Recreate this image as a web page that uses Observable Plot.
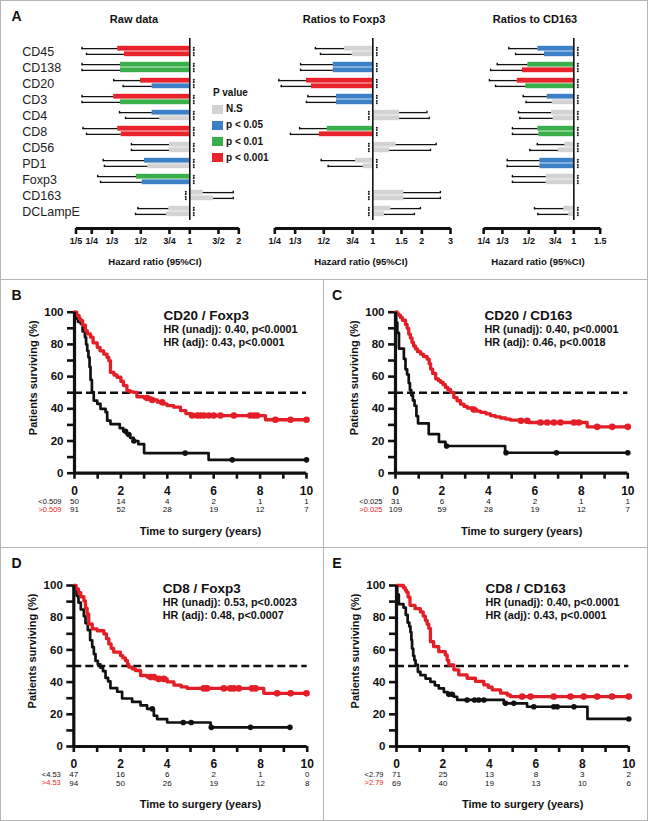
<!DOCTYPE html>
<html><head><meta charset="utf-8">
<script src="https://cdn.jsdelivr.net/npm/d3@7"></script>
<script src="https://cdn.jsdelivr.net/npm/@observablehq/plot@0.6"></script>
<style>
body{margin:0;background:#fff;font-family:"Liberation Sans",Arial,sans-serif;}
#fig{position:relative;width:648px;height:821px;overflow:hidden;background:#fff;}
#fig svg{position:absolute;background:transparent;overflow:visible;}
.t{position:absolute;white-space:nowrap;line-height:1;font-weight:bold;color:#111;}
.ln{position:absolute;background:#b5b5b5;}
.sw{position:absolute;width:11px;height:9px;}
</style></head><body><div id="fig"></div>
<script>
// ---------- Panel A data ----------
const markers = ["CD45","CD138","CD20","CD3","CD4","CD8","CD56","PD1","Foxp3","CD163","DCLampE"];
const sigNames = ["N.S","p < 0.05","p < 0.01","p < 0.001"];
const sigColors = ["#d3d3d3","#3d80c6","#3aae4a","#e8232b"];

const rawHrTop  = [0.361,0.375,0.498,0.341,0.587,0.361,0.75,0.527,0.47,1.21,0.743];
const rawCiTop  = [0.218,0.218,0.341,0.218,0.37,0.221,0.438,0.294,0.272,1.85,0.48];
const rawSigTop = [3,2,3,3,1,3,0,1,2,0,0];
const rawHrBot  = [0.397,0.375,0.587,0.375,0.654,0.379,0.75,0.552,0.51,1.40,0.72];
const rawCiBot  = [0.232,0.218,0.39,0.218,0.403,0.232,0.438,0.299,0.283,1.85,0.464];
const rawSigBot = [3,2,1,2,0,3,0,0,1,0,0];

const foxHrTop  = [0.67,0.571,0.391,0.598,1.46,0.525,1.39,0.783,null,1.55,1.29];
const foxCiTop  = [0.444,0.36,0.265,0.399,2.15,0.355,2.45,0.482,null,2.6,1.96];
const foxSigTop = [0,1,3,1,0,2,0,0,null,0,0];
const foxHrBot  = [0.747,0.571,0.42,0.598,1.46,0.47,1.27,0.873,null,1.55,1.18];
const foxCiBot  = [0.477,0.36,0.274,0.391,2.22,0.312,2.26,0.532,null,2.6,1.8];
const foxSigBot = [0,1,3,1,0,3,0,0,null,0,0];

const cdHrTop  = [0.575,0.493,0.419,0.664,0.71,0.575,0.87,0.593,0.654,null,0.857];
const cdCiTop  = [0.368,0.308,0.273,0.459,0.427,0.389,0.57,0.359,0.389,null,0.546];
const cdSigTop = [1,2,3,1,0,2,0,1,0,null,0];
const cdHrBot  = [0.637,0.454,0.478,0.717,0.728,0.584,0.787,0.593,0.654,null,0.926];
const cdCiBot  = [0.408,0.278,0.3,0.48,0.436,0.389,0.508,0.359,0.389,null,0.575];
const cdSigBot = [1,3,2,0,0,2,0,1,0,null,0];

const rawTicks = [1/5,1/4,1/3,1/2,3/4,1,3/2,2];
const rawTickLabels = ["1/5","1/4","1/3","1/2","3/4","1","3/2","2"];
const foxTicks = [1/4,1/3,1/2,3/4,1,1.5,2,3];
const foxTickLabels = ["1/4","1/3","1/2","3/4","1","1.5","2","3"];
const cdTicks = [1/4,1/3,1/2,3/4,1,1.5];
const cdTickLabels = ["1/4","1/3","1/2","3/4","1","1.5"];

// ---------- Survival data ----------
const riskTimes = [0,2,4,6,8,10];

const bBlackT = [0,0.05,0.15,0.27,0.35,0.45,0.5,0.55,0.6,0.65,0.69,0.75,0.83,0.98,1.12,1.34,1.41,1.55,1.95,2.1,2.25,2.4,2.55,2.75,3.0,5.78,10];
const bBlackS = [100,96,94,92.8,88,84.4,80,76,72,66,58,50.3,45.1,43.1,40,37.9,32.6,30.5,28,26,24,22,20,18,12.5,8.3,8.3];
const bBlackC = [2.2,2.34,2.56,4.77,6.8,10];
const bRedT = [0,0.1,0.2,0.26,0.35,0.47,0.55,0.69,0.8,0.98,1.1,1.26,1.4,1.48,1.55,1.7,1.83,2.0,2.11,2.26,2.4,2.55,2.69,3.0,3.3,3.57,3.8,3.99,4.28,4.57,4.8,5.0,8.23,10];
const bRedS = [100,98,96,94.8,92,88.6,86.5,84.5,81,78.2,76,74,72,69.9,62.6,61,59.6,57,54.4,51.2,50.5,50.2,47.5,46.7,45.5,44.1,43,42,41,38.9,37,35.8,33.2,33.2];
const bRedC = [3.13,3.35,3.78,5.07,5.29,5.43,5.58,5.79,6.0,6.29,6.87,7.58,7.73,7.87,8.66,9.31,10];

const cBlackT = [0,0.03,0.08,0.15,0.36,0.43,0.5,0.57,0.62,0.68,0.75,0.82,0.9,0.97,1.43,1.87,2.15,4.72,10];
const cBlackS = [100,93.5,87.1,77.4,71.0,64.5,61.3,56.0,51.6,48.4,45.2,41.9,35.5,31.0,24.3,19.5,16.9,12.7,12.7];
const cBlackC = [2.2,4.76,6.93,10];
const cRedT = [0,0.08,0.15,0.22,0.3,0.43,0.5,0.57,0.64,0.71,0.78,0.86,0.95,1.08,1.2,1.36,1.45,1.51,1.6,1.73,1.85,1.94,2.05,2.15,2.25,2.37,2.51,2.65,2.8,2.95,3.09,3.3,3.5,3.66,3.9,4.09,4.3,4.52,4.75,4.95,5.38,5.73,8.25,10];
const cRedS = [100,99,98,96.6,95,92.4,90,86.4,84,81.2,79,77.2,75.5,74,72.5,70.9,68,64.7,62,58.6,57.5,56.5,55,53.3,52,50.2,47,45,42.9,41.5,40.5,39.5,38.5,37.8,36.8,35.8,35,34.3,33.6,33,32.6,31.5,28.8,28.8];
const cRedC = [3.37,5.4,5.67,6.24,6.53,6.82,7.1,7.68,7.89,8.68,9.33,10];

const dBlackT = [0,0.05,0.12,0.2,0.3,0.43,0.5,0.6,0.7,0.79,0.86,0.93,1.03,1.14,1.25,1.36,1.47,1.57,1.86,2.07,2.5,2.86,3.14,3.43,3.57,4.0,5.86,9.26];
const dBlackS = [100,97.9,93.6,89.4,85.1,80.9,76.6,72.3,66,61.7,57.4,53.2,51,48.9,46.8,42.6,40.4,36.2,34,29.8,27.7,25.5,23.4,19.1,17,14.9,11.9,11.9];
const dBlackC = [3.36,4.69,5.03,5.89,7.57,9.26];
const dRedT = [0,0.1,0.2,0.3,0.43,0.5,0.57,0.64,0.79,1.0,1.29,1.4,1.5,1.6,1.71,2.0,2.1,2.21,2.3,2.36,2.5,2.64,2.86,3.14,3.5,4.0,4.29,4.6,4.86,8.14,10];
const dRedS = [100,97.9,95.6,93,90.5,86,82.3,76.1,73,71.9,69.9,67,63.7,61,58.6,56.5,55,53.4,51,49.3,48.2,47.2,44.1,43.1,42,40.2,38.1,37,36.1,33,33];
const dRedC = [3.29,3.43,3.64,3.86,5.57,5.71,6.43,6.71,6.86,7.07,7.64,7.79,8.71,9.29,9.97];

const eBlackT = [0,0.03,0.1,0.3,0.4,0.48,0.55,0.6,0.64,0.67,0.72,0.77,0.82,0.92,1.03,1.25,1.46,1.65,1.82,2.04,2.2,2.47,2.61,4.62,5.62,8.22,10];
const eBlackS = [100,94.4,88.4,86.3,81.7,77,74.6,71.1,66.2,60.8,56.3,53.5,50.7,46.4,44.3,42.2,40.2,38,36.1,33.8,32.4,30.9,28.9,26.8,24.7,17.1,17.1];
const eBlackC = [2.25,2.39,3.04,3.36,3.54,3.76,4.69,5.05,5.91,6.77,6.92,7.64,10];
const eRedT = [0,0.3,0.38,0.44,0.5,0.58,0.8,1.03,1.15,1.24,1.32,1.39,1.46,1.6,1.82,2.1,2.18,2.25,2.47,2.68,3.04,3.4,3.76,3.95,4.12,4.48,4.77,4.9,10];
const eRedS = [100,98.6,97.1,95.7,92.8,87.7,85.6,83.6,81,78.4,76,73.4,65.1,62,58.9,56.9,53.5,50.7,47.6,44.5,42.4,40.4,38.3,36.8,35.2,33.2,32,31,31];
const eRedC = [5.41,5.77,6.77,7.49,8.06,8.64,9.28,10];

const panels = [
  {key:"B", left:0, top:279, height:268, ml:74, mr:18, mt:32.7,
   title:"CD20 / Foxp3", hr1:"HR (unadj): 0.40, p<0.0001", hr2:"HR (adj): 0.43, p<0.0001",
   lowLab:"<0.509", highLab:">0.509", riskLow:[50,14,4,2,1,1], riskHigh:[91,52,28,19,12,7],
   bT:bBlackT, bS:bBlackS, bC:bBlackC, rT:bRedT, rS:bRedS, rC:bRedC},
  {key:"C", left:324, top:279, height:268, ml:71, mr:20.7, mt:32.7,
   title:"CD20 / CD163", hr1:"HR (unadj): 0.40, p<0.0001", hr2:"HR (adj): 0.46, p<0.0018",
   lowLab:"<0.025", highLab:">0.025", riskLow:[31,6,4,2,1,1], riskHigh:[109,59,28,19,12,7],
   bT:cBlackT, bS:cBlackS, bC:cBlackC, rT:cRedT, rS:cRedS, rC:cRedC},
  {key:"D", left:0, top:547, height:274, ml:73.3, mr:17.3, mt:38,
   title:"CD8 / Foxp3", hr1:"HR (unadj): 0.53, p<0.0023", hr2:"HR (adj): 0.48, p<0.0007",
   lowLab:"<4.53", highLab:">4.53", riskLow:[47,16,6,2,1,0], riskHigh:[94,50,26,19,12,8],
   bT:dBlackT, bS:dBlackS, bC:dBlackC, rT:dRedT, rS:dRedS, rC:dRedC},
  {key:"E", left:324, top:547, height:274, ml:72, mr:19.7, mt:38,
   title:"CD8 / CD163", hr1:"HR (unadj): 0.40, p<0.0001", hr2:"HR (adj): 0.43, p<0.0001",
   lowLab:"<2.79", highLab:">2.79", riskLow:[71,25,13,8,3,2], riskHigh:[69,40,19,13,10,6],
   bT:eBlackT, bS:eBlackS, bC:eBlackC, rT:eRedT, rS:eRedS, rC:eRedC}
];

// ---------- helpers ----------
const fig = document.getElementById("fig");
const FONT = '"Liberation Sans", Arial, sans-serif';
function txt(s, x, y, size, opt = {}) {
  const d = document.createElement("div");
  d.className = "t";
  d.textContent = s;
  d.style.left = x + "px";
  d.style.top = y + "px";
  d.style.fontSize = size + "px";
  if (opt.weight) d.style.fontWeight = opt.weight;
  if (opt.color) d.style.color = opt.color;
  d.style.transform = opt.anchor === "start" ? "translate(0,-50%)" : "translate(-50%,-50%)";
  fig.appendChild(d);
}
function place(svg, left, top) {
  svg.style.left = left + "px";
  svg.style.top = top + "px";
  fig.appendChild(svg);
}

// ---------- Forest plots ----------
function forest(o) {
  const rows = [];
  markers.forEach((m, i) => {
    if (o.hrT[i] != null) rows.push({m, hr: o.hrT[i], ci: o.ciT[i], sig: o.sigT[i], half: "top"});
    if (o.hrB[i] != null) rows.push({m, hr: o.hrB[i], ci: o.ciB[i], sig: o.sigB[i], half: "bot"});
  });
  const half = 8.37, out = 2.8;
  const marks = [];
  for (const [set, sgn] of [[rows.filter(d => d.half === "top"), -1], [rows.filter(d => d.half === "bot"), 1]]) {
    marks.push(Plot.barX(set, {x1: 1, x2: "hr", y: "m", fill: d => sigColors[d.sig],
      insetTop: sgn < 0 ? out : half, insetBottom: sgn < 0 ? half : out}));
    marks.push(Plot.ruleY(set, {x1: "hr", x2: "ci", y: "m", dy: sgn * 2.9, stroke: "#111", strokeWidth: 1.3}));
    marks.push(Plot.tickX(set, {x: "ci", y: "m", stroke: "#111", strokeWidth: 1.4,
      insetTop: sgn < 0 ? half - 4.5 : half + 1.3, insetBottom: sgn < 0 ? half + 1.3 : half - 4.5}));
    for (const dd of [1.5, 3.8]) {
      marks.push(Plot.dot(set.filter(d => d.hr < 1), {x: 1, y: "m", dx: 4, dy: sgn * dd, r: 0.95, fill: "#111", stroke: null}));
      marks.push(Plot.dot(set.filter(d => d.hr >= 1), {x: 1, y: "m", dx: -4, dy: sgn * dd, r: 0.95, fill: "#111", stroke: null}));
    }
  }
  marks.push(Plot.ruleX([1], {insetBottom: 8, stroke: "#111", strokeWidth: 1.6}));
  marks.push(Plot.frame({fill: "#111", stroke: null, insetTop: 188.5, insetBottom: -1.5}));
  marks.push(Plot.axisX({ticks: o.ticks, tickFormat: d => o.tickLabels[o.ticks.indexOf(d)],
    tickSize: 6, tickPadding: 3, strokeWidth: 2.6, fontSize: 9, fontWeight: "bold", label: null}));
  if (o.labels) marks.push(Plot.text(markers, {y: d => d, frameAnchor: "left", textAnchor: "start",
    dx: 21.7 - o.ml, fontSize: 12.5, fill: "#222"}));
  const svg = Plot.plot({
    width: o.width, height: 278, marginLeft: o.ml, marginRight: o.mr, marginTop: 38, marginBottom: 50,
    style: {fontFamily: FONT, background: "transparent", overflow: "visible", color: "#111"},
    x: {type: "log", domain: o.domain},
    y: {type: "band", domain: markers, range: [39.3, 223.4], padding: 0, axis: null},
    marks
  });
  place(svg, o.left, 0);
}

forest({left: 0, width: 262, ml: 75.5, mr: 23.7, domain: [1/5, 2], ticks: rawTicks, tickLabels: rawTickLabels, labels: true,
  hrT: rawHrTop, ciT: rawCiTop, sigT: rawSigTop, hrB: rawHrBot, ciB: rawCiBot, sigB: rawSigBot});
forest({left: 262, width: 200, ml: 12.3, mr: 12, domain: [1/4, 3], ticks: foxTicks, tickLabels: foxTickLabels,
  hrT: foxHrTop, ciT: foxCiTop, sigT: foxSigTop, hrB: foxHrBot, ciB: foxCiBot, sigB: foxSigBot});
forest({left: 462, width: 186, ml: 21.2, mr: 48.3, domain: [1/4, 1.5], ticks: cdTicks, tickLabels: cdTickLabels,
  hrT: cdHrTop, ciT: cdCiTop, sigT: cdSigTop, hrB: cdHrBot, ciB: cdCiBot, sigB: cdSigBot});

// Panel A texts
txt("A", 16.5, 16, 14);
txt("Raw data", 134, 18.5, 11);
txt("Ratios to Foxp3", 344, 18.5, 11);
txt("Ratios to CD163", 535, 18.5, 11);
txt("Hazard ratio (95%CI)", 155, 261.5, 9.6);
txt("Hazard ratio (95%CI)", 361, 261.5, 9.6);
txt("Hazard ratio (95%CI)", 538, 261.5, 9.6);
// legend
txt("P value", 213, 93, 10, {anchor: "start"});
sigNames.forEach((n, i) => {
  const y = 109 + i * 16.3;
  const s = document.createElement("div");
  s.className = "sw";
  s.style.left = "211.5px"; s.style.top = (y - 4.5) + "px"; s.style.background = sigColors[i];
  fig.appendChild(s);
  txt(n, 226, y, 10, {anchor: "start"});
});

// ---------- Survival plots ----------
const RED = "#e31e26";
function stepAt(T, S, t) { let v = S[0]; for (let i = 0; i < T.length; i++) if (T[i] <= t) v = S[i]; return v; }
panels.forEach(p => {
  const steps = (T, S) => T.map((t, i) => ({t, s: S[i]}));
  const cens = (T, S, C) => C.map(t => ({t, s: stepAt(T, S, t)}));
  const low = riskTimes.map((t, i) => ({t, n: p.riskLow[i]}));
  const high = riskTimes.map((t, i) => ({t, n: p.riskHigh[i]}));
  const plotH = 161;
  const svg = Plot.plot({
    width: 324, height: p.height, marginLeft: p.ml, marginRight: p.mr, marginTop: p.mt,
    marginBottom: p.height - p.mt - plotH,
    style: {fontFamily: FONT, background: "transparent", overflow: "visible", color: "#111"},
    x: {domain: [0, 10], axis: null},
    y: {domain: [0, 100], axis: null},
    marks: [
      Plot.ruleY([50], {x1: 0, x2: 10, stroke: "#111", strokeWidth: 2.6, strokeDasharray: "8,4"}),
      Plot.axisY({ticks: d3.range(0, 101, 10), tickFormat: d => d % 20 === 0 ? d : "", tickSize: 7, tickPadding: 4,
        strokeWidth: 2.6, fontSize: 11.5, fontWeight: "bold", label: null}),
      Plot.axisX({ticks: d3.range(0, 11), tickFormat: d => d % 2 === 0 ? d : "", tickSize: 6, tickPadding: 7,
        strokeWidth: 2.6, fontSize: 12, fontWeight: "bold", label: null}),
      Plot.line(steps(p.bT, p.bS), {x: "t", y: "s", curve: "step-after", stroke: "#111", strokeWidth: 2.7}),
      Plot.dot(cens(p.bT, p.bS, p.bC), {x: "t", y: "s", r: 2.8, fill: "#111", stroke: null}),
      Plot.line(steps(p.rT, p.rS), {x: "t", y: "s", curve: "step-after", stroke: RED, strokeWidth: 3.3}),
      Plot.dot(cens(p.rT, p.rS, p.rC), {x: "t", y: "s", r: 3.3, fill: RED, stroke: null}),
      Plot.ruleX([0], {y1: 0, y2: 100, stroke: "#111", strokeWidth: 3.2}),
      Plot.ruleY([0], {x1: 0, x2: 10, stroke: "#111", strokeWidth: 3.2}),
      Plot.text([p.title], {frameAnchor: "top-left", dx: 89, dy: 3, textAnchor: "start", lineAnchor: "middle", fontSize: 13.5, fontWeight: "bold"}),
      Plot.text([p.hr1], {frameAnchor: "top-left", dx: 89, dy: 17, textAnchor: "start", lineAnchor: "middle", fontSize: 10.8, fontWeight: "bold"}),
      Plot.text([p.hr2], {frameAnchor: "top-left", dx: 89, dy: 30.5, textAnchor: "start", lineAnchor: "middle", fontSize: 10.8, fontWeight: "bold"}),
      Plot.text(["Patients surviving (%)"], {frameAnchor: "left", dx: -41.5, dy: -15, rotate: -90, textAnchor: "middle", lineAnchor: "middle", fontSize: 11, fontWeight: "bold"}),
      Plot.text(["Time to surgery (years)"], {frameAnchor: "bottom", dx: 10, dy: 58, textAnchor: "middle", lineAnchor: "middle", fontSize: 11, fontWeight: "bold"}),
      Plot.text([p.lowLab], {frameAnchor: "bottom-left", dx: -13, dy: 28, textAnchor: "end", lineAnchor: "middle", fontSize: 7.5, fill: "#111"}),
      Plot.text([p.highLab], {frameAnchor: "bottom-left", dx: -13, dy: 36.5, textAnchor: "end", lineAnchor: "middle", fontSize: 7.5, fill: RED}),
      Plot.text(low, {x: "t", y: 0, text: "n", dy: 28, fontSize: 8, fill: "#111"}),
      Plot.text(high, {x: "t", y: 0, text: "n", dy: 36.5, fontSize: 8, fill: "#111"})
    ]
  });
  place(svg, p.left, p.top);
});
txt("B", 16.5, 295, 14);
txt("C", 337, 295, 14);
txt("D", 16.5, 563, 14);
txt("E", 337, 563, 14);

// ---------- frame lines ----------
function ln(x, y, w, h) {
  const d = document.createElement("div");
  d.className = "ln";
  d.style.left = x + "px"; d.style.top = y + "px"; d.style.width = w + "px"; d.style.height = h + "px";
  fig.appendChild(d);
}
ln(0, 0, 648, 1); ln(0, 820, 648, 1); ln(0, 0, 1, 821); ln(647, 0, 1, 821);
ln(0, 278.5, 648, 1); ln(0, 546.5, 648, 1); ln(323, 279, 1, 542);
</script></body></html>
